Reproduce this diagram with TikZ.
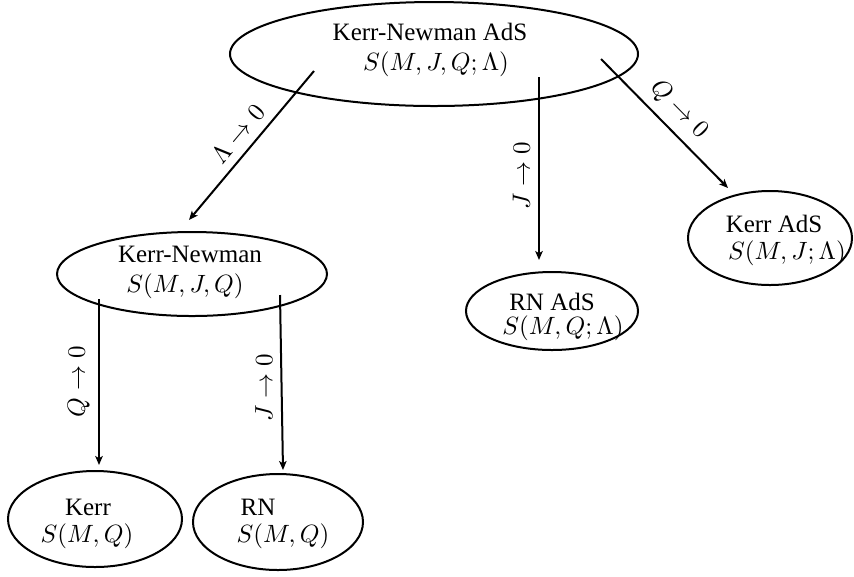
\documentclass[tikz,border=0pt]{standalone}
\usepackage[no-math]{fontspec}
\setmainfont{Liberation Serif}
\usetikzlibrary{arrows.meta,shapes.geometric}

\begin{document}
\begin{tikzpicture}[
  x=0.4pt, y=-0.4pt,
  bh/.style={ellipse,draw,thick,inner sep=0pt},
  txt/.style={anchor=base,inner sep=0pt},
  limit/.style={-{Stealth[length=3.6pt,width=3pt,inset=0.9pt]},thick},
  lbl/.style={inner sep=3.3pt}
]
  \useasboundingbox (0,0) rectangle (854,576);

  % black holes
  \node[bh, minimum width=163.2pt, minimum height=41.6pt] (knads) at (434,54) {};
  \node[bh, minimum width=108pt, minimum height=33.6pt] (kn) at (192,274) {};
  \node[bh, minimum width=65.6pt, minimum height=37.6pt] (kerrads) at (770,238) {};
  \node[bh, minimum width=68.8pt, minimum height=31.2pt] (rnads) at (552,311) {};
  \node[bh, minimum width=69.6pt, minimum height=38.4pt] (kerr) at (95,519) {};
  \node[bh, minimum width=68pt, minimum height=38.4pt] (rn) at (278,522) {};

  % names and entropies
  \node[txt] (knads-n) at (430,40) {Kerr-Newman AdS};
  \node[txt] (knads-s) at (436,70) {$S(M,J,Q;\Lambda)$};
  \node[txt] (kn-n) at (190,262) {Kerr-Newman};
  \node[txt] (kn-s) at (185,292) {$S(M,J,Q)$};
  \node[txt] (kerrads-n) at (774,232) {Kerr AdS};
  \node[txt] (kerrads-s) at (787,259) {$S(M,J;\Lambda)$};
  \node[txt] (rnads-n) at (552,310) {RN AdS};
  \node[txt] (rnads-s) at (563,334) {$S(M,Q;\Lambda)$};
  \node[txt] (kerr-n) at (88,515) {Kerr};
  \node[txt] (kerr-s) at (87,542) {$S(M,Q)$};
  \node[txt] (rn-n) at (258,515) {RN};
  \node[txt] (rn-s) at (283,542) {$S(M,Q)$};

  % arrow ends
  \coordinate (lam-a) at (314,71);
  \coordinate (lam-b) at (189,220);
  \coordinate (j1-a) at (539,77);
  \coordinate (j1-b) at (539,260);
  \coordinate (q1-a) at (601,59);
  \coordinate (q1-b) at (728,188);
  \coordinate (q2-a) at (99,299);
  \coordinate (q2-b) at (99,465);
  \coordinate (j2-a) at (280,295);
  \coordinate (j2-b) at (283,470);

  \draw[limit] (lam-a) -- node[lbl, sloped, above] {$\Lambda\to 0$} (lam-b);
  \draw[limit] (j1-a) -- node[lbl, pos=0.54, rotate=90, anchor=south] {$J\to 0$} (j1-b);
  \draw[limit] (q1-a) -- node[lbl, sloped, above] {$Q\to 0$} (q1-b);
  \draw[limit] (q2-a) -- node[lbl, rotate=90, anchor=south] {$Q\to 0$} (q2-b);
  \draw[limit] (j2-a) -- node[lbl, pos=0.53, rotate=90, anchor=south] {$J\to 0$} (j2-b);
\end{tikzpicture}
\end{document}
